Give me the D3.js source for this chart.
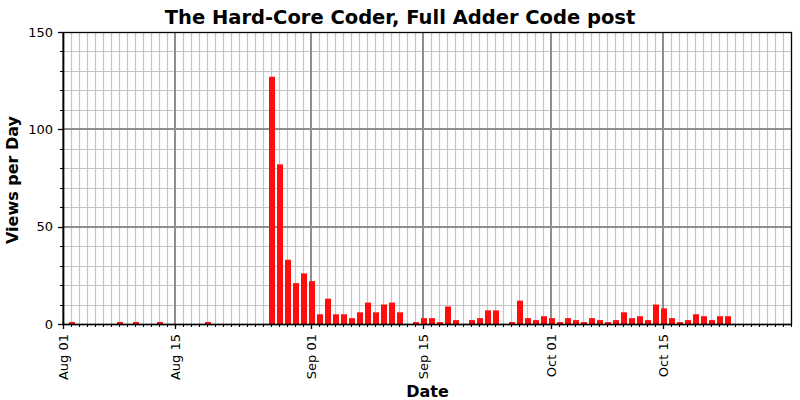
<!DOCTYPE html>
<html>
<head>
<meta charset="utf-8">
<script src="https://cdn.jsdelivr.net/npm/d3@7"></script>
<style>
  html, body { margin: 0; padding: 0; background: #fff; }
  text { font-family: "DejaVu Sans", sans-serif; }
</style>
</head>
<body>
<svg id="chart" width="800" height="400"></svg>
<script>
// ---- data ----
const titleText = "The Hard-Core Coder, Full Adder Code post";
const xLabel = "Date";
const yLabel = "Views per Day";

const dates = [
  "2013-08-02","2013-08-08","2013-08-10","2013-08-13","2013-08-19",
  "2013-08-27","2013-08-28","2013-08-29","2013-08-30","2013-08-31",
  "2013-09-01","2013-09-02","2013-09-03","2013-09-04","2013-09-05",
  "2013-09-06","2013-09-07","2013-09-08","2013-09-09","2013-09-10",
  "2013-09-11","2013-09-12","2013-09-14","2013-09-15","2013-09-16",
  "2013-09-17","2013-09-18","2013-09-19","2013-09-21","2013-09-22",
  "2013-09-23","2013-09-24","2013-09-26","2013-09-27","2013-09-28",
  "2013-09-29","2013-09-30","2013-10-01","2013-10-02","2013-10-03",
  "2013-10-04","2013-10-05","2013-10-06","2013-10-07","2013-10-08",
  "2013-10-09","2013-10-10","2013-10-11","2013-10-12","2013-10-13",
  "2013-10-14","2013-10-15","2013-10-16","2013-10-17","2013-10-18",
  "2013-10-19","2013-10-20","2013-10-21","2013-10-22","2013-10-23"
];
const views = [
  1,1,1,1,1,
  127,82,33,21,26,
  22,5,13,5,5,
  3,6,11,6,10,
  11,6,1,3,3,
  1,9,2,2,3,
  7,7,1,12,3,
  2,4,3,1,3,
  2,1,3,2,1,
  2,6,3,4,2,
  10,8,3,1,2,
  5,4,2,4,4
];
const majorDates = ["2013-08-01","2013-08-15","2013-09-01","2013-09-15","2013-10-01","2013-10-15"];
const yMajorTicks = [0, 50, 100, 150];
const yMinorStep = 10;
const domainStart = "2013-08-01T00:00";
const domainEnd = "2013-10-31T03:00";

// ---- layout ----
const W = 800, H = 400;
const m = { left: 63, top: 32, right: 8, bottom: 76 };
const pw = W - m.left - m.right, ph = H - m.top - m.bottom;

const parseDay = d3.timeParse("%Y-%m-%d");
const parseDT = d3.timeParse("%Y-%m-%dT%H:%M");
const data = dates.map((d, i) => ({ date: parseDay(d), value: views[i] }));

const x = d3.scaleTime().domain([parseDT(domainStart), parseDT(domainEnd)]).range([0, pw]);
const y = d3.scaleLinear().domain([0, 150]).range([ph, 0]);

const svg = d3.select("#chart");
svg.append("rect").attr("width", W).attr("height", H).attr("fill", "#fff");
const g = svg.append("g").attr("transform", `translate(${m.left},${m.top})`);

const allDays = d3.timeDay.range(parseDay("2013-08-01"), parseDT(domainEnd));
const majors = majorDates.map(parseDay);
const isMajor = d => majors.some(mj => +mj === +d);
const yMinor = d3.range(0, 151, yMinorStep).filter(v => !yMajorTicks.includes(v));

// minor grid
g.append("g").selectAll("line").data(allDays.filter(d => !isMajor(d))).join("line")
  .attr("x1", d => Math.round(x(d)) + 0.5).attr("x2", d => Math.round(x(d)) + 0.5)
  .attr("y1", 0).attr("y2", ph)
  .attr("stroke", "#c4c4c4").attr("stroke-width", 1.2);
g.append("g").selectAll("line").data(yMinor).join("line")
  .attr("x1", 0).attr("x2", pw)
  .attr("y1", d => Math.round(y(d)) + 0.5).attr("y2", d => Math.round(y(d)) + 0.5)
  .attr("stroke", "#c4c4c4").attr("stroke-width", 1.2);
// major grid
g.append("g").selectAll("line").data(majors).join("line")
  .attr("x1", d => Math.round(x(d))).attr("x2", d => Math.round(x(d)))
  .attr("y1", 0).attr("y2", ph)
  .attr("stroke", "#8e8e8e").attr("stroke-width", 2);
g.append("g").selectAll("line").data(yMajorTicks.filter(v => v > 0 && v < 150)).join("line")
  .attr("x1", 0).attr("x2", pw)
  .attr("y1", d => Math.round(y(d))).attr("y2", d => Math.round(y(d)))
  .attr("stroke", "#8e8e8e").attr("stroke-width", 2);

// bars
const barW = 6;
g.append("g").selectAll("rect").data(data).join("rect")
  .attr("x", d => Math.round(x(d.date)) - 2)
  .attr("width", barW)
  .attr("y", d => y(d.value))
  .attr("height", d => ph - y(d.value))
  .attr("fill", "#ff0d0d");

// frame
g.append("rect").attr("x", 0.5).attr("y", 0.5).attr("width", pw - 1).attr("height", ph)
  .attr("fill", "none").attr("stroke", "#000").attr("stroke-width", 1.3);

// x axis ticks
const xAxisG = g.append("g").attr("transform", `translate(0,${ph})`);
xAxisG.append("line").attr("x1", 0).attr("x2", pw).attr("y1", 0.5).attr("y2", 0.5)
  .attr("stroke", "#000").attr("stroke-width", 1.5);
xAxisG.selectAll("line.minor").data(allDays.filter(d => !isMajor(d))).join("line")
  .attr("class", "minor")
  .attr("x1", d => Math.round(x(d)) + 0.5).attr("x2", d => Math.round(x(d)) + 0.5)
  .attr("y1", 0).attr("y2", 3).attr("stroke", "#000").attr("stroke-width", 1);
xAxisG.selectAll("line.major").data(majors).join("line")
  .attr("class", "major")
  .attr("x1", d => Math.round(x(d)) + 0.5).attr("x2", d => Math.round(x(d)) + 0.5)
  .attr("y1", 0).attr("y2", 5).attr("stroke", "#000").attr("stroke-width", 1.3);
const fmt = d3.timeFormat("%b %d");
xAxisG.selectAll("text").data(majors).join("text")
  .attr("transform", d => `translate(${x(d) + 0.5},10) rotate(-90)`)
  .attr("text-anchor", "end").attr("dy", "0.35em")
  .attr("font-size", 13).attr("fill", "#000")
  .text(d => fmt(d));

// y axis ticks
const yAxisG = g.append("g");
yAxisG.append("line").attr("x1", 0.5).attr("x2", 0.5).attr("y1", 0).attr("y2", ph)
  .attr("stroke", "#000").attr("stroke-width", 1.5);
yAxisG.selectAll("line.minor").data(yMinor).join("line").attr("class", "minor")
  .attr("x1", -3).attr("x2", 0)
  .attr("y1", d => Math.round(y(d)) + 0.5).attr("y2", d => Math.round(y(d)) + 0.5)
  .attr("stroke", "#000").attr("stroke-width", 1);
yAxisG.selectAll("line.major").data(yMajorTicks).join("line").attr("class", "major")
  .attr("x1", -5).attr("x2", 0)
  .attr("y1", d => Math.round(y(d)) + 0.5).attr("y2", d => Math.round(y(d)) + 0.5)
  .attr("stroke", "#000").attr("stroke-width", 1.3);
yAxisG.selectAll("text").data(yMajorTicks).join("text")
  .attr("x", -10).attr("y", d => y(d)).attr("dy", "0.35em")
  .attr("text-anchor", "end").attr("font-size", 13).attr("fill", "#000")
  .text(d => d);

// titles
svg.append("text").attr("x", W / 2).attr("y", 24).attr("text-anchor", "middle")
  .attr("font-size", 19.5).attr("font-weight", "bold").text(titleText);
svg.append("text").attr("x", m.left + pw / 2).attr("y", 397).attr("text-anchor", "middle")
  .attr("font-size", 16).attr("font-weight", "bold").text(xLabel);
svg.append("text").attr("transform", `translate(18,180) rotate(-90)`)
  .attr("text-anchor", "middle").attr("font-size", 16).attr("font-weight", "bold").text(yLabel);
</script>
</body>
</html>
